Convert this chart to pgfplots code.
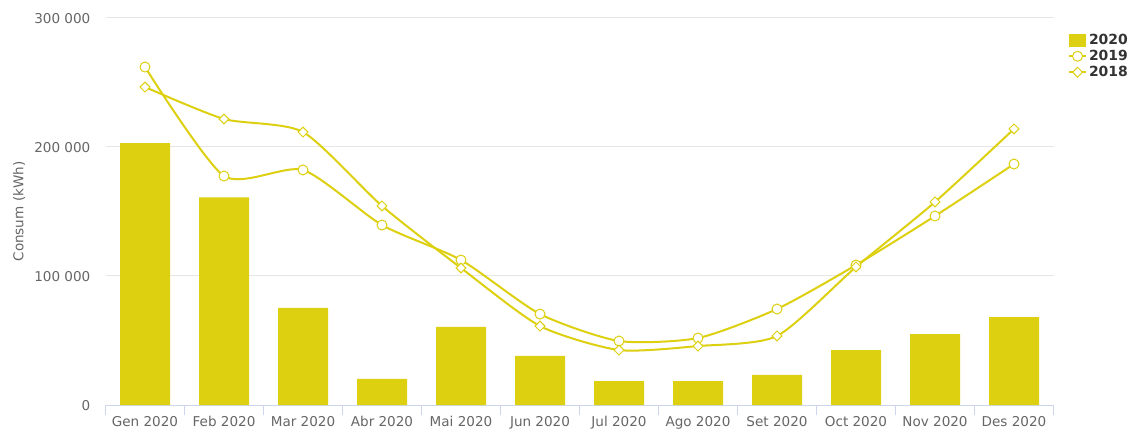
\documentclass[border=0pt]{standalone}
\usepackage{pgfplots}
\pgfplotsset{compat=1.18}
\usepackage{fontspec}
\setmainfont{DejaVu Sans}
\definecolor{barcol}{RGB}{221,208,16}
\definecolor{gridcol}{RGB}{230,230,230}
\definecolor{axcol}{RGB}{204,214,235}
\definecolor{labcol}{RGB}{102,102,102}
\definecolor{legcol}{RGB}{51,51,51}
\begin{document}
\begin{tikzpicture}
\useasboundingbox (0,0) rectangle (1134bp,430bp);
\begin{axis}[
  at={(105.5bp,25bp)}, anchor=south west,
  scale only axis, width=948bp, height=387bp,
  xmin=-0.5, xmax=11.5, ymin=0, ymax=300000,
  axis x line*=bottom, axis y line*=left,
  x axis line style={draw=axcol, line width=1bp},
  y axis line style={draw=none},
  xtick={0,...,11},
  xticklabels={Gen 2020,Feb 2020,Mar 2020,Abr 2020,Mai 2020,Jun 2020,Jul 2020,Ago 2020,Set 2020,Oct 2020,Nov 2020,Des 2020},
  minor xtick={-0.5,0.5,...,11.5},
  tick align=outside,
  major tick length=0pt,
  minor tick length=10bp,
  minor tick style={draw=axcol, line width=1bp},
  ytick={0,100000,200000,300000},
  yticklabels={0,100 000,200 000,300 000},
  scaled y ticks=false,
  ymajorgrids,
  grid style={draw=gridcol, line width=1bp},
  ticklabel style={font=\fontsize{13.6}{16}\selectfont, text=labcol},
  yticklabel style={anchor=east, inner sep=0pt, xshift=-15bp, yshift=-1bp},
  xticklabel style={anchor=north, inner sep=0pt, yshift=-11.5bp, text height=10bp, text depth=3bp},
  ylabel={Consum (kWh)},
  every axis y label/.style={at={(rel axis cs:-0.0912,0.5)}, rotate=90, anchor=center, font=\fontsize{13.6}{16}\selectfont, text=labcol},
  legend style={at={(rel axis cs:1.0153,0.9625)}, anchor=north west, draw=none, fill=none, inner sep=0pt, outer sep=0pt,
    font=\bfseries\fontsize{14}{16}\selectfont, text=legcol, row sep=0.5bp,
    nodes={inner ysep=1.5bp, text height=10bp, text depth=2.5bp}},
  legend cell align=left,
  clip=false,
]
\addplot[ybar, bar width=50bp, fill=barcol, draw=none,
  legend image code/.code={\path (0bp,-6.5bp) rectangle (17bp,6.5bp); \fill[barcol] (2bp,-6.5bp) rectangle (15bp,6.5bp);}]
coordinates {(0,203000)(1,161000)(2,75200)(3,20200)(4,60500)(5,38000)(6,18600)(7,18600)(8,23300)(9,42600)(10,55000)(11,68200)};
\addlegendentry{2020}
\addplot[color=barcol, line width=2bp, smooth, tension=0.4, mark=*, mark size=5bp, mark options={fill=white, draw=barcol, line width=1bp}]
coordinates {(0,262000)(1,177500)(2,182200)(3,139500)(4,112400)(5,70500)(6,49600)(7,51900)(8,74400)(9,108500)(10,146500)(11,186800)};
\addlegendentry{2019}
\addplot[color=barcol, line width=2bp, smooth, tension=0.4, mark=square*, mark size=3.5bp, mark options={rotate=45, fill=white, draw=barcol, line width=1bp}]
coordinates {(0,246500)(1,221700)(2,211600)(3,154300)(4,106200)(5,61200)(6,42600)(7,45700)(8,53500)(9,107000)(10,157400)(11,214000)};
\addlegendentry{2018}
\end{axis}
\end{tikzpicture}
\end{document}
